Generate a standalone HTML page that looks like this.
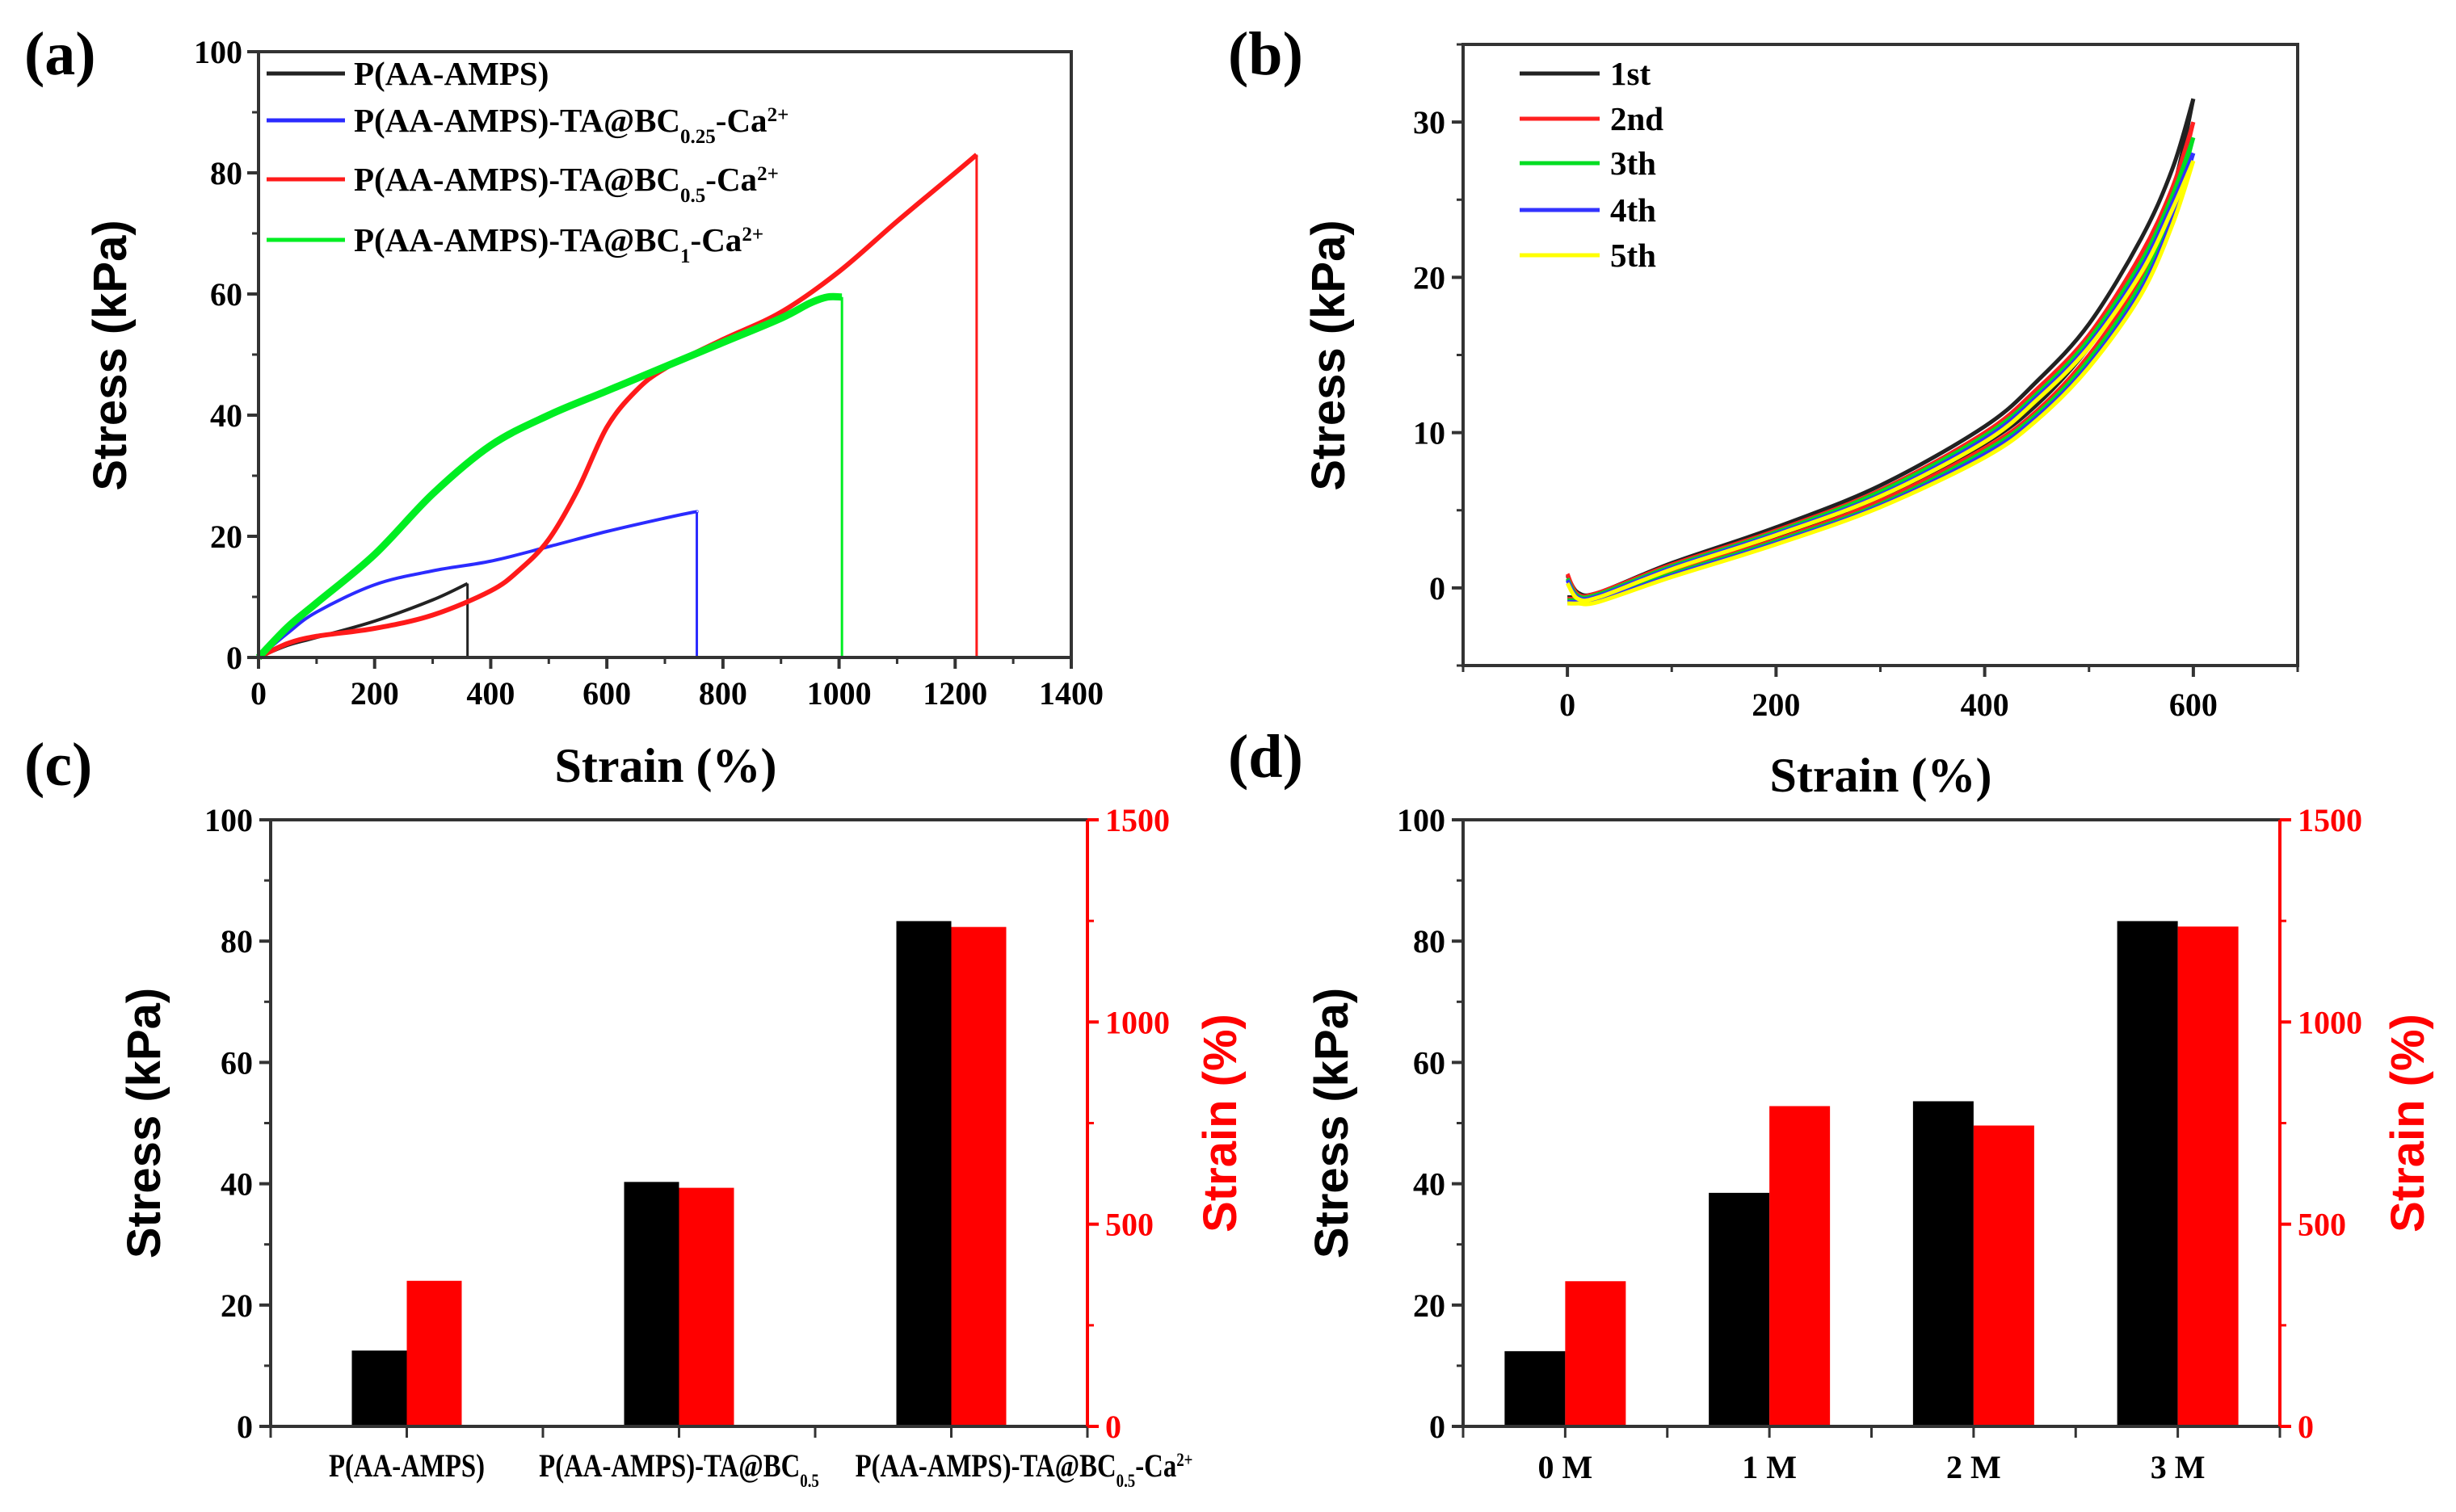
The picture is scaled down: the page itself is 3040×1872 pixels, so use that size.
<!DOCTYPE html>
<html><head><meta charset="utf-8"><style>
html,body{margin:0;padding:0;background:#fff}
svg{display:block}
.tk{font-family:"Liberation Serif",serif;font-weight:bold;font-size:40px}
.ttl{font-family:"Liberation Serif",serif;font-weight:bold;font-size:60px}
.yt{font-family:"Liberation Sans",sans-serif;font-weight:bold;font-size:58px}
.lg{font-family:"Liberation Serif",serif;font-weight:bold;font-size:41px}
.pl{font-family:"Liberation Serif",serif;font-weight:bold;font-size:76px}
</style></head><body>
<svg id="fig" width="3040" height="1872" viewBox="0 0 3040 1872" xmlns="http://www.w3.org/2000/svg">
<text class="pl" x="30" y="92">(a)</text>
<text class="pl" x="1520" y="92">(b)</text>
<text class="pl" x="30" y="972">(c)</text>
<text class="pl" x="1520" y="962">(d)</text>
</svg>
<script>
// ---------- Panel (a) data ----------
const aBlackX=[0,50,100,200,300,360];
const aBlackY=[0,2,3.3,6,9.5,12.2];
const aBlueX=[0,50,100,200,300,400,500,600,700,750,755];
const aBlueY=[0,4,7.5,12,14.3,15.9,18.3,20.8,23,24,24];
const aRedX=[0,50,100,200,300,400,450,500,550,600,650,700,800,900,1000,1100,1200,1237];
const aRedY=[0,2.3,3.5,4.8,7,11,14.5,19.5,27.7,38,44,47.7,52.5,57,63.7,72,80,83];
const aGreenX=[0,50,100,200,300,400,500,600,700,800,900,950,980,1005];
const aGreenY=[0,5,9,17,27,35,40,44,48,52,56,58.5,59.5,59.5];
const aLegend=["P(AA-AMPS)","P(AA-AMPS)-TA@BC|0.25|-Ca|2+","P(AA-AMPS)-TA@BC|0.5|-Ca|2+","P(AA-AMPS)-TA@BC|1|-Ca|2+"];
const aXTicks=[0,200,400,600,800,1000,1200,1400];
const aYTicks=[0,20,40,60,80,100];
// ---------- Panel (b) data ----------
const bStrain=[0,10,30,100,200,300,400,450,500,550,580,600];
const bLoad1=[0.8,-0.3,-0.3,1.6,3.9,6.6,10.4,13.3,17,22.5,27,31.5];
const bUnload1=[-0.6,-0.6,-0.5,1.2,3.3,5.8,9.3,11.8,15.5,20.5,25.5,31.5];
const bLoad2=[0.9,-0.4,-0.3,1.5,3.7,6.3,10.0,12.8,16.3,21.5,25.8,30];
const bUnload2=[-0.7,-0.7,-0.6,1.0,3.1,5.6,9.0,11.4,15.0,20.0,24.8,30];
const bLoad3=[0.6,-0.5,-0.4,1.4,3.6,6.2,9.8,12.5,16.0,21.0,25.3,29];
const bUnload3=[-0.8,-0.8,-0.7,0.9,3.0,5.4,8.8,11.2,14.7,19.6,24.3,29];
const bLoad4=[0.5,-0.6,-0.5,1.3,3.5,6.0,9.6,12.3,15.7,20.6,24.8,28];
const bUnload4=[-0.9,-0.9,-0.8,0.8,2.9,5.3,8.6,11.0,14.4,19.2,23.8,28];
const bLoad5=[0.3,-0.7,-0.6,1.2,3.4,5.9,9.4,12.1,15.5,20.3,24.4,27.5];
const bUnload5=[-1.0,-1.0,-0.9,0.7,2.8,5.2,8.4,10.8,14.2,18.9,23.4,27.5];
const bLegend=["1st","2nd","3th","4th","5th"];
const bXTicks=[0,200,400,600];
const bYTicks=[0,10,20,30];
// ---------- Panel (c) data ----------
const cCats=["P(AA-AMPS)","P(AA-AMPS)-TA@BC|0.5|","P(AA-AMPS)-TA@BC|0.5|-Ca|2+"];
const cStress=[12.5,40.3,83.3];
const cStrain=[360,590,1235];
// ---------- Panel (d) data ----------
const dCats=["0 M","1 M","2 M","3 M"];
const dStress=[12.4,38.5,53.6,83.3];
const dStrain=[359,792,744,1236];
const stressTicks=[0,20,40,60,80,100];
const strainTicks=[0,500,1000,1500];

const NS="http://www.w3.org/2000/svg";
const svg=document.getElementById('fig');
function mk(tag,attrs,parent){const e=document.createElementNS(NS,tag);for(const k in attrs)e.setAttribute(k,attrs[k]);(parent||svg).appendChild(e);return e;}
function lin(d0,d1,r0,r1){return v=>r0+(v-d0)*(r1-r0)/(d1-d0);}
function smooth(pts){let d="M"+pts[0][0]+","+pts[0][1];for(let i=0;i<pts.length-1;i++){const p0=pts[i-1]||pts[i],p1=pts[i],p2=pts[i+1],p3=pts[i+2]||p2;const c1=[p1[0]+(p2[0]-p0[0])/6,p1[1]+(p2[1]-p0[1])/6],c2=[p2[0]-(p3[0]-p1[0])/6,p2[1]-(p3[1]-p1[1])/6];d+=" C"+c1[0]+","+c1[1]+" "+c2[0]+","+c2[1]+" "+p2[0]+","+p2[1];}return d;}
function richText(el,str,size){const parts=str.split("|");parts.forEach((p,i)=>{if(!p)return;const t=mk('tspan',{},el);t.textContent=p;if(i%2===1){const sup=i===3;t.setAttribute('font-size',Math.round(size*0.6));t.setAttribute('baseline-shift',sup?'super':'sub');}});}

function frame(L,R,T,B,color){mk('rect',{x:L,y:T,width:R-L,height:B-T,fill:'none',stroke:color||'#333',"stroke-width":4});}

// ===== Panel (a) =====
(function(){
const L=320,R=1326,T=64,B=814;const X=lin(0,1400,L,R),Y=lin(0,100,B,T);
const g=mk('g',{});
frame(L,R,T,B);
aXTicks.forEach(v=>{const l=mk('line',{x1:X(v),x2:X(v),y1:B,y2:B+14,stroke:'#333','stroke-width':4},g);
const t=mk('text',{x:X(v),y:B+58,'text-anchor':'middle',class:'tk'},g);t.textContent=v;});
for(let v=100;v<1400;v+=200){mk('line',{x1:X(v),x2:X(v),y1:B,y2:B+8,stroke:'#333','stroke-width':3},g);}
aYTicks.forEach(v=>{mk('line',{x1:L-14,x2:L,y1:Y(v),y2:Y(v),stroke:'#333','stroke-width':4},g);
const t=mk('text',{x:L-20,y:Y(v)+14,'text-anchor':'end',class:'tk'},g);t.textContent=v;});
for(let v=10;v<100;v+=20){mk('line',{x1:L-8,x2:L,y1:Y(v),y2:Y(v),stroke:'#333','stroke-width':3},g);}
const series=[[aBlackX,aBlackY,'#222',4,'series-p-aa-amps'],[aBlueX,aBlueY,'#2b2bff',4,'series-bc025'],[aRedX,aRedY,'#ff1a1a',6,'series-bc05'],[aGreenX,aGreenY,'#00ee22',9,'series-bc1']];
series.forEach(s=>{const pts=s[0].map((x,i)=>[X(x),Y(s[1][i])]);const p=mk('path',{d:smooth(pts),fill:'none',stroke:s[2],'stroke-width':s[3],'stroke-linejoin':'round'},g);
const last=s[0][s[0].length-1];const dl=mk('line',{x1:X(last),x2:X(last),y1:Y(s[1][s[1].length-1]),y2:B,stroke:s[2],'stroke-width':3},g);});
const cols=['#222','#2b2bff','#ff1a1a','#00ee22'];const ly=[91,149,222,297];
aLegend.forEach((s,i)=>{const l=mk('line',{x1:330,x2:427,y1:ly[i],y2:ly[i],stroke:cols[i],'stroke-width':5},g);
const t=mk('text',{x:438,y:ly[i]+14,class:'lg'},g);richText(t,s,41);});
const xt=mk('text',{x:824,y:968,'text-anchor':'middle',class:'ttl'},g);xt.textContent='Strain (%)';
const yt=mk('text',{x:0,y:0,'text-anchor':'middle',class:'yt',transform:'translate(156,440) rotate(-90)'},g);yt.textContent='Stress (kPa)';
})();

// ===== Panel (b) =====
(function(){
const L=1811,R=2844,T=55,B=824;const X=lin(-100,700,L,R),Y=lin(-5,35,B,T);
const g=mk('g',{});
frame(L,R,T,B);
bXTicks.forEach(v=>{mk('line',{x1:X(v),x2:X(v),y1:B,y2:B+14,stroke:'#333','stroke-width':4},g);
const t=mk('text',{x:X(v),y:B+62,'text-anchor':'middle',class:'tk'},g);t.textContent=v;});
[-100,100,300,500,700].forEach(v=>mk('line',{x1:X(v),x2:X(v),y1:B,y2:B+8,stroke:'#333','stroke-width':3},g));
bYTicks.forEach(v=>{mk('line',{x1:L-14,x2:L,y1:Y(v),y2:Y(v),stroke:'#333','stroke-width':4},g);
const t=mk('text',{x:L-22,y:Y(v)+14,'text-anchor':'end',class:'tk'},g);t.textContent=v;});
[-5,5,15,25,35].forEach(v=>mk('line',{x1:L-8,x2:L,y1:Y(v),y2:Y(v),stroke:'#333','stroke-width':3},g));
const cyc=[[bLoad1,bUnload1,'#222'],[bLoad2,bUnload2,'#ff2020'],[bLoad3,bUnload3,'#00dd22'],[bLoad4,bUnload4,'#3333ff'],[bLoad5,bUnload5,'#ffff00']];
cyc.forEach((c,k)=>{[c[0],c[1]].forEach((arr,j)=>{const pts=bStrain.map((x,i)=>[X(x),Y(arr[i])]);const p=mk('path',{d:smooth(pts),fill:'none',stroke:c[2],'stroke-width':5},g);});});
const ly=[91,147,202,260,316];
bLegend.forEach((s,i)=>{const l=mk('line',{x1:1881,x2:1980,y1:ly[i],y2:ly[i],stroke:cyc[i][2],'stroke-width':5},g);
const t=mk('text',{x:1993,y:ly[i]+14,class:'lg'},g);t.textContent=s;});
const xt=mk('text',{x:2328,y:980,'text-anchor':'middle',class:'ttl'},g);xt.textContent='Strain (%)';
const yt=mk('text',{x:0,y:0,'text-anchor':'middle',class:'yt',transform:'translate(1664,440) rotate(-90)'},g);yt.textContent='Stress (kPa)';
})();

// ===== Bar panels =====
function barPanel(name,L,R,T,B,cats,stress,strain,dmin,dmax,catPos,bw,catY,ytX,rtX,catFont,catScale,catShift){
const g=mk('g',{});
const X=lin(dmin,dmax,L,R),Y=lin(0,100,B,T),Y2=lin(0,1500,B,T);
cats.forEach((c,i)=>{const cx=X(catPos[i]);
const b1=mk('rect',{x:cx-bw,y:Y(stress[i]),width:bw,height:B-Y(stress[i]),fill:'#000'},g);
const b2=mk('rect',{x:cx,y:Y2(strain[i]),width:bw,height:B-Y2(strain[i]),fill:'#ff0000'},g);
const t=mk('text',{x:0,y:0,'text-anchor':'middle',class:'tk','font-size':catFont,transform:'translate('+(cx+catShift[i])+','+catY+') scale('+catScale+',1)'},g);richText(t,c,catFont);});
mk('line',{x1:L,x2:R,y1:T,y2:T,stroke:'#333','stroke-width':4},g);
mk('line',{x1:L,x2:R,y1:B,y2:B,stroke:'#333','stroke-width':4},g);
mk('line',{x1:L,x2:L,y1:T,y2:B,stroke:'#333','stroke-width':4},g);
mk('line',{x1:R,x2:R,y1:T,y2:B,stroke:'#ff0000','stroke-width':4},g);
for(let v=dmin;v<=dmax+0.001;v+=(dmax-dmin)/((dmax-dmin)===6?6:8)){mk('line',{x1:X(v),x2:X(v),y1:B,y2:B+14,stroke:'#333','stroke-width':3},g);}
stressTicks.forEach(v=>{mk('line',{x1:L-14,x2:L,y1:Y(v),y2:Y(v),stroke:'#333','stroke-width':4},g);
const t=mk('text',{x:L-22,y:Y(v)+14,'text-anchor':'end',class:'tk'},g);t.textContent=v;});
[10,30,50,70,90].forEach(v=>mk('line',{x1:L-8,x2:L,y1:Y(v),y2:Y(v),stroke:'#333','stroke-width':3},g));
strainTicks.forEach(v=>{mk('line',{x1:R,x2:R+14,y1:Y2(v),y2:Y2(v),stroke:'#ff0000','stroke-width':4},g);
const t=mk('text',{x:R+22,y:Y2(v)+14,class:'tk',fill:'#ff0000'},g);t.textContent=v;});
[250,750,1250].forEach(v=>mk('line',{x1:R,x2:R+8,y1:Y2(v),y2:Y2(v),stroke:'#ff0000','stroke-width':3},g));
const yt=mk('text',{x:0,y:0,'text-anchor':'middle',class:'yt',transform:'translate('+ytX+','+((T+B)/2)+') rotate(-90)'},g);yt.textContent='Stress (kPa)';
const rt=mk('text',{x:0,y:0,'text-anchor':'middle',class:'yt',fill:'#ff0000',transform:'translate('+rtX+','+((T+B)/2)+') rotate(-90)'},g);rt.textContent='Strain (%)';
}
barPanel('panel-c-bars',335,1346,1015,1766,cCats,cStress,cStrain,0,6,[1,3,5],68,1828,198,1530,38,0.82,[0,0,90]);
barPanel('panel-d-bars',1811,2822,1015,1766,dCats,dStress,dStrain,-0.5,3.5,[0,1,2,3],75,1830,1668,3000,40,1,[0,0,0,0]);
</script>
</body></html>
